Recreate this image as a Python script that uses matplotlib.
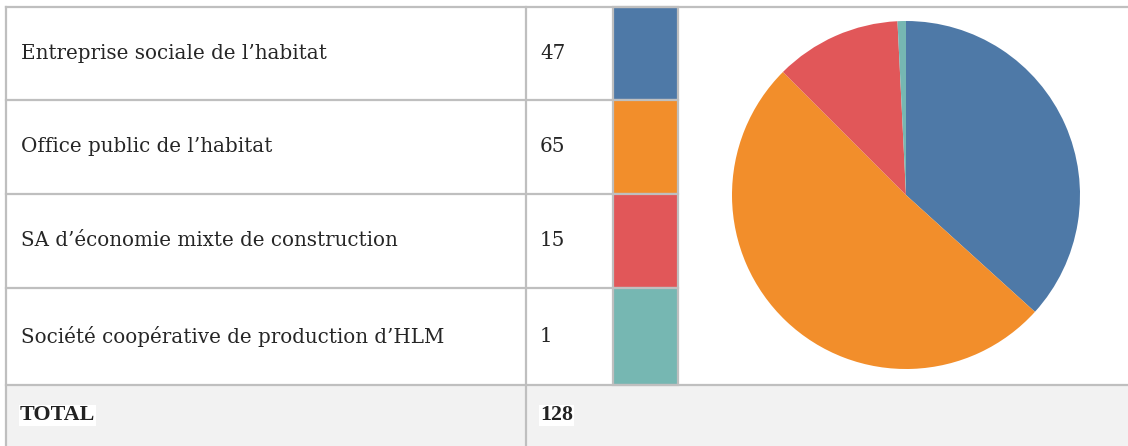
import matplotlib.pyplot as plt
from matplotlib.patches import Rectangle

# Table data
categories = ["Entreprise sociale de l\u2019habitat",
              "Office public de l\u2019habitat",
              "SA d\u2019\u00e9conomie mixte de construction",
              "Soci\u00e9t\u00e9 coop\u00e9rative de production d\u2019HLM"]
counts = [47, 65, 15, 1]
colors = ["#4e79a7", "#f28e2b", "#e15759", "#76b7b2"]
total_label = "TOTAL"
total_value = sum(counts)

W, H = 1128, 446
fig = plt.figure(figsize=(W / 100, H / 100), dpi=100)
ax = fig.add_axes([0, 0, 1, 1])
ax.set_xlim(0, W)
ax.set_ylim(H, 0)
ax.axis("off")

grid = "#bfbfbf"
lw = 1.6
font = ["DejaVu Serif"]
fs = 14.3

row_edges = [7, 100, 194, 288, 385]
x_left, x_num, x_sw0, x_sw1 = 6, 526, 613, 678

# total row background
ax.add_patch(Rectangle((x_left, row_edges[-1]), W - x_left, H - row_edges[-1],
                       facecolor="#f2f2f2", edgecolor="none"))

for i, (cat, n, c) in enumerate(zip(categories, counts, colors)):
    y0, y1 = row_edges[i], row_edges[i + 1]
    yc = (y0 + y1) / 2
    ax.add_patch(Rectangle((x_sw0, y0), x_sw1 - x_sw0, y1 - y0,
                           facecolor=c, edgecolor=grid, linewidth=lw))
    ax.text(21, yc, cat, family=font, fontsize=fs, color="#262626", va="center")
    ax.text(540, yc, str(n), family=font, fontsize=fs, color="#262626", va="center")

# horizontal lines
ax.plot([x_left, W], [row_edges[0], row_edges[0]], color=grid, lw=lw)
for y in row_edges[1:-1]:
    ax.plot([x_left, x_sw0], [y, y], color=grid, lw=lw)
ax.plot([x_left, W], [row_edges[-1], row_edges[-1]], color=grid, lw=lw)
# vertical lines
ax.plot([x_left, x_left], [row_edges[0], H], color=grid, lw=lw)
ax.plot([x_num, x_num], [row_edges[0], H], color=grid, lw=lw)

yt = (row_edges[-1] + H) / 2
ax.text(20, yt, total_label, family=["Liberation Serif"], fontsize=15.8, fontweight="bold",
        color="#222222", va="center", bbox=dict(facecolor="white", edgecolor="none", pad=0.5))
ax.text(540, yt, str(total_value), family=["Liberation Serif"], fontsize=15.8, fontweight="bold",
        color="#222222", va="center", bbox=dict(facecolor="white", edgecolor="none", pad=0.5))

# pie
cx, cy, r = 906, 195, 174
pax = fig.add_axes([(cx - r) / W, (H - cy - r) / H, 2 * r / W, 2 * r / H])
pax.pie(counts, colors=colors, startangle=90, counterclock=False,
        wedgeprops=dict(linewidth=0))
pax.set_xlim(-1, 1)
pax.set_ylim(-1, 1)
pax.set_aspect("equal")

fig.savefig("out.png", dpi=100)
